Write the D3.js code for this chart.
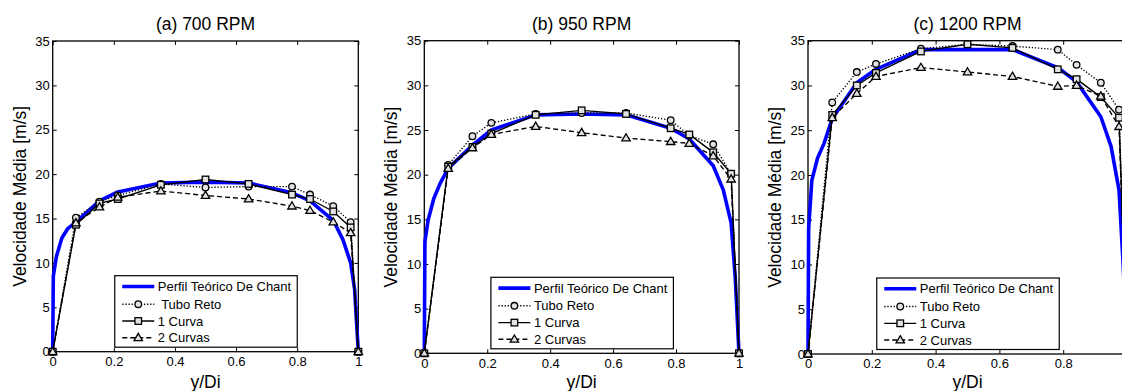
<!DOCTYPE html>
<html><head><meta charset="utf-8">
<script src="https://cdn.jsdelivr.net/npm/d3@7"></script>
<style>
body{margin:0;background:#fff;overflow:hidden}
svg{display:block}
text{font-family:"Liberation Sans",Arial,Helvetica,sans-serif;fill:#000;white-space:pre}
</style>
</head><body>
<svg id="chart" width="1122" height="391"></svg>
<script>
// ---- data ----
const titles = ["(a) 700 RPM", "(b) 950 RPM", "(c) 1200 RPM"];
const xLabel = "y/Di";
const yLabel = "Velocidade Média [m/s]";
const xTicks = [0, 0.2, 0.4, 0.6, 0.8, 1];
const yTicks = [0, 5, 10, 15, 20, 25, 30, 35];
const legendLabelsA = ["Perfil Teórico De Chant", " Tubo Reto", "1 Curva", "2 Curvas"];
const legendLabelsBC = ["Perfil Teórico De Chant", "Tubo Reto", "1 Curva", "2 Curvas"];

const measX = [0, 0.076, 0.153, 0.213, 0.354, 0.5, 0.641, 0.783, 0.842, 0.918, 0.975, 1];
const chantX = [0, 0.002, 0.012, 0.03, 0.05, 0.076, 0.153, 0.213, 0.354, 0.5, 0.641, 0.783, 0.842, 0.918, 0.95, 0.975, 0.988, 1];

const chant700  = [0, 8.5, 10.7, 12.8, 13.9, 14.6, 17.0, 18.0, 19.0, 19.1, 19.0, 17.9, 17.0, 14.8, 12.6, 10.0, 7.0, 0];
const tubo700   = [0, 15.1, 16.9, 17.6, 18.9, 18.5, 18.6, 18.6, 17.7, 16.4, 14.6, 0];
const curva1_700 = [0, 14.3, 16.7, 17.2, 18.8, 19.4, 18.9, 17.7, 17.2, 15.8, 14.0, 0];
const curva2_700 = [0, 14.5, 16.3, 17.4, 18.1, 17.6, 17.2, 16.4, 15.9, 14.6, 13.4, 0];

const chant950  = [0, 12.5, 14.9, 17.3, 19.0, 20.7, 23.3, 25.0, 26.7, 26.8, 26.7, 25.2, 24.0, 21.0, 18.3, 14.6, 8.5, 0];
const tubo950   = [0, 21.1, 24.3, 25.8, 26.8, 26.9, 26.9, 26.1, 24.4, 23.4, 20.1, 0];
const curva1_950 = [0, 20.9, 23.1, 24.6, 26.7, 27.2, 26.8, 25.2, 24.5, 22.5, 20.1, 0];
const curva2_950 = [0, 20.7, 23.0, 24.5, 25.4, 24.7, 24.1, 23.7, 23.5, 22.1, 19.5, 0];

const chant1200  = [0, 14.0, 19.4, 21.9, 23.5, 26.3, 30.3, 31.8, 34.0, 34.0, 34.0, 32.0, 30.4, 26.5, 23.2, 18.3, 10.0, 0];
const tubo1200   = [0, 28.1, 31.5, 32.4, 34.1, 34.6, 34.4, 34.0, 32.3, 30.3, 27.3, 0];
const curva1_1200 = [0, 26.7, 30.0, 31.4, 33.8, 34.6, 34.2, 31.8, 30.7, 28.7, 26.4, 0];
const curva2_1200 = [0, 26.4, 29.1, 31.0, 32.0, 31.5, 31.0, 29.9, 30.0, 28.8, 25.4, 0];

// ---- layout ----
const W = 1122;
const panels = [
  {title: titles[0], box: {l: 52.7, r: 358.3, t: 41, b: 351.7}, chant: chant700, tubo: tubo700, c1: curva1_700, c2: curva2_700, legend: legendLabelsA},
  {title: titles[1], box: {l: 424.3, r: 739, t: 40.7, b: 353.3}, chant: chant950, tubo: tubo950, c1: curva1_950, c2: curva2_950, legend: legendLabelsBC},
  {title: titles[2], box: {l: 808, r: 1127, t: 40.7, b: 354}, chant: chant1200, tubo: tubo1200, c1: curva1_1200, c2: curva2_1200, legend: legendLabelsBC}
];

const svg = d3.select("#chart");
const markerFill = "#e2e2e2";
const blackW = 1.35;

function drawMarker(g, type, x, y) {
  if (type === "circle") {
    g.append("circle").attr("cx", x).attr("cy", y).attr("r", 3.3)
      .attr("fill", markerFill).attr("stroke", "#000").attr("stroke-width", 1.3);
  } else if (type === "square") {
    const s = 6.6;
    g.append("rect").attr("x", x - s / 2).attr("y", y - s / 2).attr("width", s).attr("height", s)
      .attr("fill", markerFill).attr("stroke", "#000").attr("stroke-width", 1.3);
  } else if (type === "triangle") {
    const h = 7.2, w = 8.4;
    g.append("path").attr("d", `M${x},${y - h * 0.6}L${x + w / 2},${y + h * 0.4}L${x - w / 2},${y + h * 0.4}Z`)
      .attr("fill", markerFill).attr("stroke", "#000").attr("stroke-width", 1.3);
  }
}

const styles = {
  tubo: {dash: "1.3,1.8", marker: "circle"},
  c1: {dash: null, marker: "square"},
  c2: {dash: "5,3", marker: "triangle"}
};

panels.forEach(p => {
  const {l, r, t, b} = p.box;
  const x = d3.scaleLinear().domain([0, 1]).range([l, r]);
  const y = d3.scaleLinear().domain([0, 35]).range([b, t]);
  const g = svg.append("g");

  // axes (ticks inward); labels only for ticks that fall inside the page
  const fmtX = d => d === 0 ? "0" : d === 1 ? "1" : d3.format(".1f")(d);
  const visibleTicks = xTicks.filter(d => x(d) + 5 < W);
  const ax = g.append("g").attr("transform", `translate(0,${b})`)
    .call(d3.axisBottom(x).tickValues(visibleTicks).tickFormat(fmtX).tickSizeInner(-4).tickSizeOuter(0).tickPadding(5));
  const ay = g.append("g").attr("transform", `translate(${l},0)`)
    .call(d3.axisLeft(y).tickValues(yTicks).tickSizeInner(-4).tickSizeOuter(0).tickPadding(3));
  const at = g.append("g").attr("transform", `translate(0,${t})`)
    .call(d3.axisTop(x).tickValues(xTicks).tickFormat("").tickSizeInner(-4).tickSizeOuter(0));
  const ar = g.append("g").attr("transform", `translate(${r},0)`)
    .call(d3.axisRight(y).tickValues(yTicks).tickFormat("").tickSizeInner(-4).tickSizeOuter(0));
  [ax, ay, at, ar].forEach(a => {
    a.select(".domain").remove();
    a.selectAll("line").attr("stroke", "#000").attr("stroke-width", 1);
    a.selectAll("text").attr("font-size", 13).attr("font-family", '"Liberation Sans",Arial,sans-serif').attr("fill", "#000");
  });
  g.append("rect").attr("x", l).attr("y", t).attr("width", r - l).attr("height", b - t)
    .attr("fill", "none").attr("stroke", "#000").attr("stroke-width", 1.3);

  // theoretical profile
  const line = d3.line().x(d => x(d[0])).y(d => y(d[1]));
  g.append("path").datum(chantX.map((v, i) => [v, p.chant[i]]))
    .attr("d", line).attr("fill", "none").attr("stroke", "#0000ff").attr("stroke-width", 3.6)
    .attr("stroke-linejoin", "round");

  // measured series
  ["tubo", "c1", "c2"].forEach(key => {
    const st = styles[key];
    const pts = measX.map((v, i) => [v, p[key][i]]);
    const path = g.append("path").datum(pts).attr("d", line).attr("fill", "none")
      .attr("stroke", "#000").attr("stroke-width", blackW);
    if (st.dash) path.attr("stroke-dasharray", st.dash);
    pts.forEach(d => drawMarker(g, st.marker, x(d[0]), y(d[1])));
  });

  // title and labels
  const cx = (l + r) / 2;
  g.append("text").attr("x", cx).attr("y", 29.5).attr("text-anchor", "middle")
    .attr("font-size", 17.5).text(p.title);
  g.append("text").attr("x", cx).attr("y", 388).attr("text-anchor", "middle")
    .attr("font-size", 17.5).text(xLabel);
  g.append("text").attr("transform", `translate(${l - 27},${(t + b) / 2}) rotate(-90)`)
    .attr("text-anchor", "middle").attr("font-size", 17.5).text(yLabel);

  // legend
  const lw = 182.5, lh = 71.5;
  const lx = cx - lw / 2 + 0.5, ly = b - 4.5 - lh;
  const lg = g.append("g").attr("transform", `translate(${lx},${ly})`);
  lg.append("rect").attr("width", lw).attr("height", lh).attr("fill", "#fff")
    .attr("stroke", "#000").attr("stroke-width", 1.2);
  const rowY = [10.8, 28.5, 45.3, 62];
  const kinds = [null, "tubo", "c1", "c2"];
  kinds.forEach((k, i) => {
    const yy = rowY[i];
    const ln = lg.append("line").attr("x1", 7.5).attr("x2", 39.5).attr("y1", yy).attr("y2", yy);
    if (k === null) {
      ln.attr("stroke", "#0000ff").attr("stroke-width", 3.6);
    } else {
      ln.attr("stroke", "#000").attr("stroke-width", blackW);
      if (styles[k].dash) ln.attr("stroke-dasharray", styles[k].dash);
      drawMarker(lg, styles[k].marker, 23.5, yy);
    }
    lg.append("text").attr("x", 43).attr("y", yy + 4.6).attr("font-size", 13).text(p.legend[i]);
  });
});
</script>
</body></html>
